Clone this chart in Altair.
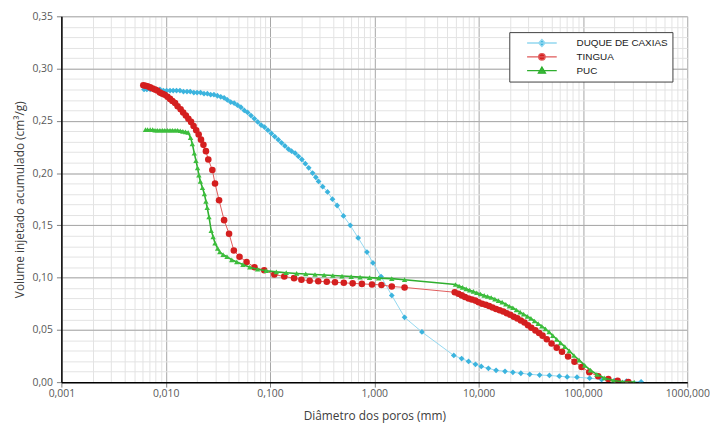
import altair as alt
import pandas as pd

SERIES = ["DUQUE DE CAXIAS", "TINGUA", "PUC"]

duque_x = [0.0062, 0.0066, 0.0071, 0.0076, 0.0082, 0.0088, 0.0095, 0.0102, 0.011, 0.0118,
           0.0127, 0.0137, 0.0148, 0.016, 0.0172, 0.0186, 0.020, 0.0216, 0.0233, 0.0251,
           0.027, 0.029, 0.0313, 0.0337, 0.0363, 0.039, 0.042, 0.0453, 0.0488, 0.0526,
           0.0567, 0.061, 0.0657, 0.0708, 0.0763, 0.0822, 0.0885, 0.0954, 0.103, 0.111,
           0.120, 0.129, 0.139, 0.150, 0.161, 0.174, 0.187, 0.202, 0.218, 0.235,
           0.256, 0.275, 0.292, 0.320, 0.356, 0.397, 0.44, 0.506, 0.588, 0.70,
           0.85, 0.97, 1.16, 1.47, 1.95, 2.86, 5.78, 6.87, 8.01, 9.33,
           10.6, 12.4, 14.7, 17.9, 21.3, 25.4, 30.9, 38.4, 47.7, 59.3,
           70.6, 87.7, 116, 151, 201, 261, 361]
duque_y = [0.280, 0.280, 0.280, 0.280, 0.280, 0.280, 0.279, 0.279, 0.279, 0.279,
           0.279, 0.279, 0.278, 0.278, 0.278, 0.277, 0.277, 0.277, 0.276, 0.276,
           0.275, 0.275, 0.274, 0.273, 0.272, 0.270, 0.268, 0.267, 0.265, 0.263,
           0.260, 0.258, 0.255, 0.252, 0.249, 0.246, 0.244, 0.241, 0.238, 0.235,
           0.232, 0.229, 0.226, 0.223, 0.221, 0.219, 0.216, 0.213, 0.209, 0.205,
           0.200, 0.196, 0.192, 0.187, 0.182, 0.175, 0.169, 0.159, 0.150, 0.138,
           0.1245, 0.114, 0.101, 0.083, 0.062, 0.048, 0.0255, 0.0226, 0.0198, 0.017,
           0.015, 0.0132, 0.0113, 0.0104, 0.0094, 0.0085, 0.0075, 0.0068, 0.0064, 0.0057,
           0.0050, 0.0047, 0.0038, 0.0025, 0.0015, 0.0010, 0.0003]

tingua_x = [0.0061, 0.0064, 0.0067, 0.0071, 0.0075, 0.0079, 0.0083, 0.0088, 0.0093, 0.0098,
            0.0104, 0.011, 0.0116, 0.0123, 0.013, 0.0139, 0.0147, 0.0156, 0.0165, 0.0175,
            0.0185, 0.0196, 0.0207, 0.0218, 0.023, 0.0243, 0.0256, 0.028, 0.0297, 0.0325,
            0.0363, 0.0405, 0.045, 0.051, 0.0596, 0.071, 0.088, 0.11, 0.137, 0.17,
            0.20, 0.24, 0.29, 0.35, 0.42, 0.51, 0.62, 0.76, 0.95, 1.17,
            1.47, 1.95, 5.9, 6.4, 6.9, 7.4, 8.0, 8.6, 9.3, 10.0,
            10.8, 11.7, 12.6, 13.6, 14.7, 15.9, 17.2, 18.6, 20.1, 21.7,
            23.5, 25.4, 27.5, 29.7, 32, 35, 38, 41, 45, 50,
            56, 63, 72, 83, 97, 115, 140, 175, 215, 272]
tingua_y = [0.284, 0.2835, 0.283, 0.282, 0.281, 0.280, 0.279, 0.277, 0.276, 0.275,
            0.273, 0.271, 0.269, 0.267, 0.264, 0.261, 0.258, 0.255, 0.252, 0.249,
            0.245, 0.241, 0.237, 0.232, 0.227, 0.221, 0.213, 0.203, 0.190, 0.174,
            0.155, 0.142, 0.126, 0.120, 0.115, 0.110, 0.107, 0.103, 0.101, 0.0995,
            0.098, 0.097, 0.0965, 0.096, 0.0955, 0.095, 0.0945, 0.094, 0.0935, 0.093,
            0.0915, 0.0906, 0.086, 0.0845, 0.083, 0.0815, 0.080, 0.079, 0.078, 0.0765,
            0.075, 0.074, 0.0728, 0.0715, 0.070, 0.0688, 0.0675, 0.066, 0.0645, 0.0625,
            0.061, 0.059, 0.057, 0.0545, 0.052, 0.0495, 0.047, 0.0445, 0.041, 0.037,
            0.033, 0.029, 0.0245, 0.0195, 0.0145, 0.0095, 0.0057, 0.003, 0.0012, 0.0]

puc_x = [0.0064, 0.0067, 0.0071, 0.0075, 0.0079, 0.0083, 0.0088, 0.0093, 0.0098, 0.0104,
         0.011, 0.0116, 0.0123, 0.013, 0.0138, 0.0146, 0.0155, 0.0164, 0.0173, 0.018,
         0.0188, 0.0195, 0.0202, 0.0208, 0.0215, 0.0225, 0.0235, 0.0243, 0.025, 0.026,
         0.0273, 0.0285, 0.0297, 0.0315, 0.033, 0.0355, 0.0387, 0.043, 0.048, 0.055,
         0.064, 0.076, 0.092, 0.115, 0.143, 0.18, 0.22, 0.27, 0.33, 0.40,
         0.49, 0.60, 0.73, 0.90, 1.10, 1.47, 1.95, 6.0, 6.5, 7.0,
         7.6, 8.2, 8.9, 9.6, 10.4, 11.3, 12.2, 13.2, 14.3, 15.5,
         16.8, 18.2, 19.7, 21.3, 23, 25, 27, 29.3, 31.7, 34.3,
         37.2, 40.3, 43.7, 47.4, 51.4, 56, 61, 67, 74, 82,
         92, 104, 118, 136, 160, 195, 240, 310]
puc_y = [0.2415, 0.2415, 0.2415, 0.2415, 0.241, 0.241, 0.241, 0.241, 0.241, 0.241,
         0.241, 0.241, 0.241, 0.241, 0.2405, 0.240, 0.2395, 0.239, 0.234, 0.228,
         0.219, 0.212, 0.205, 0.198, 0.192, 0.186, 0.180, 0.173, 0.167, 0.158,
         0.145, 0.139, 0.133, 0.128, 0.1245, 0.122, 0.120, 0.117, 0.115, 0.1125,
         0.110, 0.108, 0.1066, 0.1055, 0.1047, 0.104, 0.1035, 0.103, 0.1025, 0.102,
         0.1015, 0.101, 0.1005, 0.100, 0.0995, 0.099, 0.098, 0.0934, 0.092, 0.0907,
         0.0893, 0.088, 0.0868, 0.0855, 0.0843, 0.083, 0.082, 0.081, 0.0795, 0.078,
         0.0765, 0.0745, 0.0726, 0.0712, 0.069, 0.067, 0.065, 0.063, 0.061, 0.0585,
         0.056, 0.0535, 0.051, 0.048, 0.0445, 0.041, 0.0375, 0.034, 0.030, 0.0255,
         0.021, 0.016, 0.0115, 0.0075, 0.004, 0.0015, 0.0003, 0.0]

X_MAJOR = [0.001, 0.01, 0.1, 1, 10, 100, 1000]
X_MINOR = [m * d for d in [0.001, 0.01, 0.1, 1, 10, 100] for m in range(2, 10)]
Y_MAJOR = [0.0, 0.05, 0.10, 0.15, 0.20, 0.25, 0.30, 0.35]
Y_MINOR = [i / 100 for i in range(36)]

MARKER_COLORS = ["#3CB4DE", "#D41F1F", "#3DBE3D"]
LINE_COLORS = ["#93D8F0", "#E05A5A", "#2FAF2F"]
LINE_WIDTHS = [1.0, 1.0, 1.6]
SHAPES = ["diamond", "circle", "triangle-up"]
SIZES = [34, 44, 30]
LEGEND_PATHS = [
    "M-1,0L1,0M0,-0.24L0.22,0L0,0.24L-0.22,0Z",
    "M-1,0L1,0M0.22,0A0.22,0.22,0,1,1,-0.22,0A0.22,0.22,0,1,1,0.22,0Z",
    "M-1,0L1,0M0,-0.25L0.24,0.17L-0.24,0.17Z",
]

frames = [
    pd.DataFrame({"d": duque_x, "v": duque_y, "s": SERIES[0]}),
    pd.DataFrame({"d": tingua_x, "v": tingua_y, "s": SERIES[1]}),
    pd.DataFrame({"d": puc_x, "v": puc_y, "s": SERIES[2]}),
]

PLOT_W = 633
PLOT_H = 370

xscale = alt.Scale(type="log", domain=[0.001, 1000], nice=False)
yscale = alt.Scale(domain=[0, 0.35], nice=False, zero=True)

FONT = "Open Sans"

minor_layer = alt.Chart(frames[0]).mark_point(opacity=0).encode(
    x=alt.X("d:Q", scale=xscale, axis=alt.Axis(
        orient="top", values=X_MINOR, grid=True, gridColor="#E3E3E3", gridWidth=1,
        labels=False, ticks=False, domain=False, title=None)),
    y=alt.Y("v:Q", scale=yscale, axis=alt.Axis(
        orient="right", values=Y_MINOR, grid=True, gridColor="#E3E3E3", gridWidth=1,
        labels=False, ticks=False, domain=False, title=None)),
)

major_layer = alt.Chart(frames[0]).mark_point(opacity=0).encode(
    x=alt.X("d:Q", scale=xscale, axis=alt.Axis(
        orient="bottom", values=X_MAJOR, grid=True, gridColor="#A6A6A6", gridWidth=1,
        labelExpr="replace(format(datum.value, '.3f'), '.', ',')",
        labelFlush=False, labelOverlap=False, labelFont=FONT, labelFontSize=10.5,
        labelColor="#595959", labelPadding=2, tickSize=5, tickColor="#7F7F7F",
        domainColor="#000000", domainWidth=1.5,
        title="Diâmetro dos poros (mm)", titleFont=FONT, titleFontSize=12,
        titleFontWeight="normal", titleColor="#404040",
        titleX=PLOT_W / 2, titleY=34, titleAlign="center", titleBaseline="middle")),
    y=alt.Y("v:Q", scale=yscale, axis=alt.Axis(
        orient="left", values=Y_MAJOR, grid=True, gridColor="#A6A6A6", gridWidth=1,
        labelExpr="replace(format(datum.value, '.2f'), '.', ',')",
        labelFlush=False, labelOverlap=False, labelFont=FONT, labelFontSize=10.5,
        labelColor="#595959", labelPadding=4, tickSize=5, tickColor="#7F7F7F",
        domainColor="#000000", domainWidth=1.5,
        title="Volume injetado acumulado (cm³/g)", titleFont=FONT, titleFontSize=12,
        titleFontWeight="normal", titleColor="#404040", titleAngle=270,
        titleX=-42, titleY=PLOT_H / 2, titleAlign="center", titleBaseline="middle")),
)

legend_def = alt.Legend(
    title=None, orient="none", legendX=453, legendY=16, direction="vertical",
    fillColor="white", strokeColor="#404040", padding=4,
    symbolSize=900, symbolStrokeWidth=1.3, symbolOffset=13, symbolOpacity=1,
    labelOffset=19, labelFont="Liberation Sans", labelFontSize=10, labelColor="#1A1A1A",
    clipHeight=14, rowPadding=0,
)

legend_data = pd.concat([f.iloc[[0]] for f in frames], ignore_index=True)
legend_layer = alt.Chart(legend_data).mark_point(filled=True, opacity=0).encode(
    x=alt.X("d:Q", scale=xscale, axis=None),
    y=alt.Y("v:Q", scale=yscale, axis=None),
    color=alt.Color("s:N", scale=alt.Scale(domain=SERIES, range=MARKER_COLORS), legend=legend_def),
    stroke=alt.Stroke("s:N", scale=alt.Scale(domain=SERIES, range=LINE_COLORS), legend=legend_def),
    shape=alt.Shape("s:N", scale=alt.Scale(domain=SERIES, range=LEGEND_PATHS), legend=legend_def),
)

layers = [minor_layer, major_layer, legend_layer]
for i, f in enumerate(frames):
    line = alt.Chart(f).mark_line(color=LINE_COLORS[i], strokeWidth=LINE_WIDTHS[i], clip=True).encode(
        x=alt.X("d:Q", scale=xscale, axis=None),
        y=alt.Y("v:Q", scale=yscale, axis=None),
        order=alt.Order("d:Q"),
    )
    pts = alt.Chart(f).mark_point(filled=True, shape=SHAPES[i], size=SIZES[i],
                                  color=MARKER_COLORS[i], opacity=1, strokeWidth=0, clip=True).encode(
        x=alt.X("d:Q", scale=xscale, axis=None),
        y=alt.Y("v:Q", scale=yscale, axis=None),
    )
    layers += [line, pts]

chart = alt.layer(*layers).resolve_axis(x="independent", y="independent").properties(
    width=PLOT_W, height=PLOT_H,
    autosize=alt.AutoSizeParams(type="none"),
    padding={"left": 54, "top": 6, "right": 23, "bottom": 46},
    background="white",
).configure_view(stroke=None)

chart.save("out.html", embed_options={"renderer": "svg", "actions": False})
